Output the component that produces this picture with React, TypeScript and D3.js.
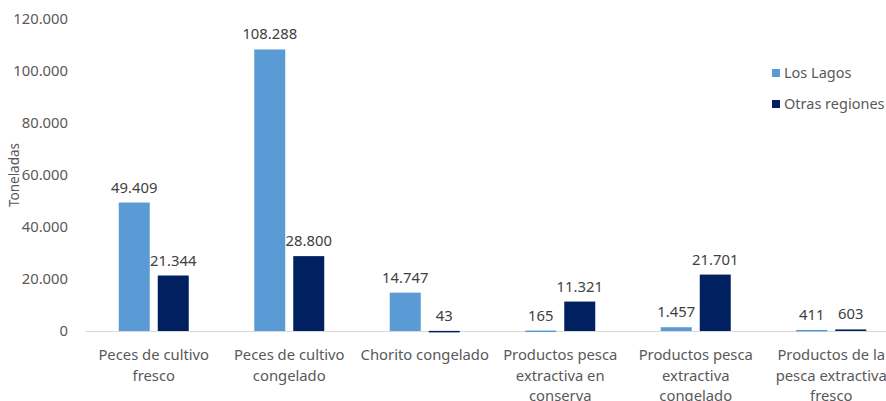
import React from "react";
import * as d3 from "d3";

const categories: string[][] = [
  ["Peces de cultivo", "fresco"],
  ["Peces de cultivo", "congelado"],
  ["Chorito congelado"],
  ["Productos pesca", "extractiva en", "conserva"],
  ["Productos pesca", "extractiva", "congelado"],
  ["Productos de la", "pesca extractiva", "fresco"],
];
const losLagos = [49409, 108288, 14747, 165, 1457, 411];
const otrasRegiones = [21344, 28800, 43, 11321, 21701, 603];
const seriesNames = ["Los Lagos", "Otras regiones"];
const seriesColors = ["#5B9BD5", "#002060"];
const yTicks = [0, 20000, 40000, 60000, 80000, 100000, 120000];

const fmt = (v: number) => d3.format(",")(v).replace(/,/g, ".");

export default function App() {
  const W = 886, H = 401;
  const left = 86, right = 899, top = 19, bottom = 331;
  const x = d3.scaleBand<number>().domain(d3.range(categories.length)).range([left, right]);
  const y = d3.scaleLinear().domain([0, 120000]).range([bottom, top]);
  const barW = 31, gap = 8;
  const font = "'Noto Sans', sans-serif";
  const series = [losLagos, otrasRegiones];
  return (
    <svg width={W} height={H} style={{ position: "absolute", left: 0, top: 0, background: "#fff" }} fontFamily={font}>
      <rect width={W} height={H} fill="#fff" />
      {yTicks.map((t) => (
        <text key={t} x={68} y={y(t)} dy="0.35em" textAnchor="end" fontSize={14.8} fill="#595959">
          {fmt(t)}
        </text>
      ))}
      <text transform={`translate(14,${(top + bottom) / 2}) rotate(-90)`} textAnchor="middle" fontSize={13.5} fill="#595959" dy="0.35em">
        Toneladas
      </text>
      <line x1={left} x2={W} y1={bottom + 0.5} y2={bottom + 0.5} stroke="#D9D9D9" />
      {categories.map((c, i) => {
        const cx = x(i)! + x.bandwidth() / 2;
        return (
          <g key={i}>
            {series.map((s, j) => {
              const bx = j === 0 ? cx - gap / 2 - barW : cx + gap / 2;
              const yy = y(s[i]);
              return (
                <g key={j}>
                  <rect x={bx} y={yy} width={barW} height={Math.max(bottom - yy, 1.5)} fill={seriesColors[j]} />
                  <text x={bx + barW / 2} y={yy - 10} textAnchor="middle" fontSize={14.8} fill="#404040">
                    {fmt(s[i])}
                  </text>
                </g>
              );
            })}
            {c.map((line, k) => (
              <text key={k} x={cx} y={360 + k * 20.5} textAnchor="middle" fontSize={14.8} fill="#595959">
                {line}
              </text>
            ))}
          </g>
        );
      })}
      {seriesNames.map((n, j) => (
        <g key={n} transform={`translate(772,${73 + j * 31})`}>
          <rect x={0} y={-4} width={8} height={8} fill={seriesColors[j]} />
          <text x={12} y={0} dy="0.35em" fontSize={14.5} fill="#595959">
            {n}
          </text>
        </g>
      ))}
    </svg>
  );
}
